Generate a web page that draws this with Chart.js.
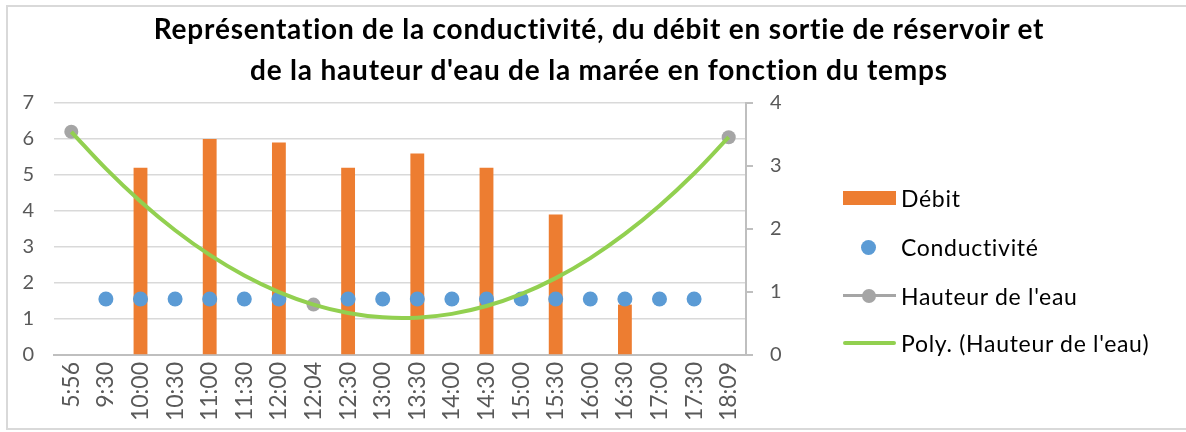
<!DOCTYPE html>
<html>
<head>
<meta charset="utf-8">
<script src="https://cdn.jsdelivr.net/npm/chart.js@4.4.1/dist/chart.umd.min.js"></script>
<style>
  body { margin: 0; background: #fff; }
  .wrap { position: relative; width: 1186px; height: 432px; overflow: hidden; font-family: Lato, sans-serif; }
  .frame { position: absolute; left: 6px; top: 5px; width: 1200px; height: 421px; border: 2px solid #d9d9d9; }
  canvas { position: absolute; left: 0; top: 0; }
  .title { position: absolute; left: 0; top: 8px; width: 1198px; text-align: center;
    font-weight: bold; font-size: 28px; letter-spacing: 0.8px; line-height: 41px; color: #000; }
  .legend { position: absolute; left: 843px; top: 0; font-size: 23px; letter-spacing: 0.7px; color: #000; }
  .row { position: absolute; left: 0; height: 30px; white-space: nowrap; }
  .sym { position: absolute; left: 0; top: 0; width: 53px; height: 30px; }
  .lbl { position: absolute; left: 58px; top: 0; line-height: 30px; }
</style>
</head>
<body>
<div class="wrap">
  <div class="frame"></div>
  <canvas id="chart" width="1186" height="432"></canvas>
  <div class="title">Représentation de la conductivité, du débit en sortie de réservoir et<br>de la hauteur d'eau de la marée en fonction du temps</div>
  <div class="legend" id="legend"></div>
</div>
<script>
const times = ['5:56', '9:30', '10:00', '10:30', '11:00', '11:30', '12:00', '12:04', '12:30', '13:00',
  '13:30', '14:00', '14:30', '15:00', '15:30', '16:00', '16:30', '17:00', '17:30', '18:09']

const debit = [null, null, 5.2, null, 6.0, null, 5.9, null, 5.2, null,
  5.6, null, 5.2, null, 3.9, null, 1.4, null, null, null]

const conductivite = [null, 0.89, 0.89, 0.89, 0.89, 0.89, 0.89, null, 0.89, 0.89,
  0.89, 0.89, 0.89, 0.89, 0.89, 0.89, 0.89, 0.89, 0.89, null]

const hauteur = [6.2, null, null, null, null, null, null, 1.4, null, null,
  null, null, null, null, null, null, null, null, null, 6.05]

const leftTicks = [0, 1, 2, 3, 4, 5, 6, 7]
const rightTicks = [0, 1, 2, 3, 4]

const colors = {
  debit: '#ED7D31',
  conductivite: '#5B9BD5',
  hauteur: '#A5A5A5',
  poly: '#92D050',
}

// polynomial (order 2) trendline of the water height, like Excel does it
const polyFit = (ys) => {
  const pts = ys.map((y, i) => [i, y]).filter((p) => p[1] !== null)
  const s = [0, 0, 0, 0, 0]
  const t = [0, 0, 0]
  pts.forEach(([x, y]) => {
    for (let k = 0; k < 5; k++) s[k] += Math.pow(x, k)
    for (let k = 0; k < 3; k++) t[k] += y * Math.pow(x, k)
  })
  const m = [
    [s[0], s[1], s[2], t[0]],
    [s[1], s[2], s[3], t[1]],
    [s[2], s[3], s[4], t[2]],
  ]
  for (let i = 0; i < 3; i++) {
    for (let j = i + 1; j < 3; j++) {
      const f = m[j][i] / m[i][i]
      for (let k = i; k < 4; k++) m[j][k] -= f * m[i][k]
    }
  }
  const c = [0, 0, 0]
  for (let i = 2; i >= 0; i--) {
    let v = m[i][3]
    for (let k = i + 1; k < 3; k++) v -= m[i][k] * c[k]
    c[i] = v / m[i][i]
  }
  return ys.map((_, x) => c[0] + c[1] * x + c[2] * x * x)
}

const polyHauteur = polyFit(hauteur)

// legend
const legendRows = [
  { label: 'Débit', y: 198, sym: `<div style="position:absolute;left:0;top:8px;width:53px;height:14px;background:${colors.debit}"></div>` },
  { label: 'Conductivité', y: 247, sym: `<div style="position:absolute;left:18px;top:8px;width:15px;height:15px;border-radius:50%;background:${colors.conductivite}"></div>` },
  { label: "Hauteur de l'eau", y: 296, sym: `<div style="position:absolute;left:0;top:13px;width:53px;height:3px;background:${colors.hauteur}"></div><div style="position:absolute;left:19px;top:8px;width:14px;height:14px;border-radius:50%;background:${colors.hauteur}"></div>` },
  { label: "Poly. (Hauteur de l'eau)", y: 343, sym: `<div style="position:absolute;left:0;top:13px;width:53px;height:4px;border-radius:2px;background:${colors.poly}"></div>` },
]
document.getElementById('legend').innerHTML = legendRows
  .map((r) => `<div class="row" style="top:${r.y - 15}px"><div class="sym">${r.sym}</div><div class="lbl">${r.label}</div></div>`)
  .join('')

const tickFont = { family: 'Lato', size: 20 }

new Chart(document.getElementById('chart').getContext('2d'), {
  type: 'bar',
  data: {
    labels: times,
    datasets: [
      {
        type: 'line',
        label: "Poly. (Hauteur de l'eau)",
        data: polyHauteur,
        borderColor: colors.poly,
        borderWidth: 4,
        pointRadius: 0,
        tension: 0.4,
        yAxisID: 'y',
        order: 0,
      },
      {
        type: 'line',
        label: "Hauteur de l'eau",
        data: hauteur,
        borderColor: colors.hauteur,
        backgroundColor: colors.hauteur,
        borderWidth: 3,
        pointRadius: 7,
        pointBorderWidth: 0,
        spanGaps: false,
        yAxisID: 'y',
        order: 1,
      },
      {
        type: 'line',
        label: 'Conductivité',
        data: conductivite,
        showLine: false,
        backgroundColor: colors.conductivite,
        borderColor: colors.conductivite,
        pointRadius: 7.5,
        pointBorderWidth: 0,
        yAxisID: 'y1',
        order: 2,
      },
      {
        label: 'Débit',
        data: debit,
        backgroundColor: colors.debit,
        barPercentage: 0.4,
        categoryPercentage: 1,
        yAxisID: 'y',
        order: 3,
      },
    ],
  },
  options: {
    responsive: false,
    animation: false,
    devicePixelRatio: 1,
    layout: { padding: { top: 103, left: 0, right: 390, bottom: 0 } },
    plugins: {
      legend: { display: false },
      tooltip: { enabled: false },
      title: { display: false },
    },
    scales: {
      x: {
        offset: true,
        grid: { display: false, drawTicks: false },
        border: { display: true, color: '#bfbfbf', width: 2 },
        ticks: { autoSkip: false, minRotation: 90, maxRotation: 90, padding: 7, color: '#595959', font: { family: 'Lato', size: 23 } },
        afterFit(scale) { scale.height = 77 },
      },
      y: {
        position: 'left',
        min: leftTicks[0],
        max: leftTicks[leftTicks.length - 1],
        ticks: { stepSize: 1, padding: 20, color: '#595959', font: tickFont },
        grid: { color: '#d9d9d9', lineWidth: 1.5, drawTicks: false },
        border: { display: false },
        afterFit(scale) { scale.width = 54 },
      },
      y1: {
        position: 'right',
        min: rightTicks[0],
        max: rightTicks[rightTicks.length - 1],
        ticks: { stepSize: 1, padding: 17, color: '#595959', font: tickFont },
        grid: { drawOnChartArea: false, drawTicks: true, tickLength: 7, color: '#bfbfbf', lineWidth: 2 },
        border: { display: true, color: '#bfbfbf', width: 2 },
        afterFit(scale) { scale.width = 50 },
      },
    },
  },
})
</script>
</body>
</html>
